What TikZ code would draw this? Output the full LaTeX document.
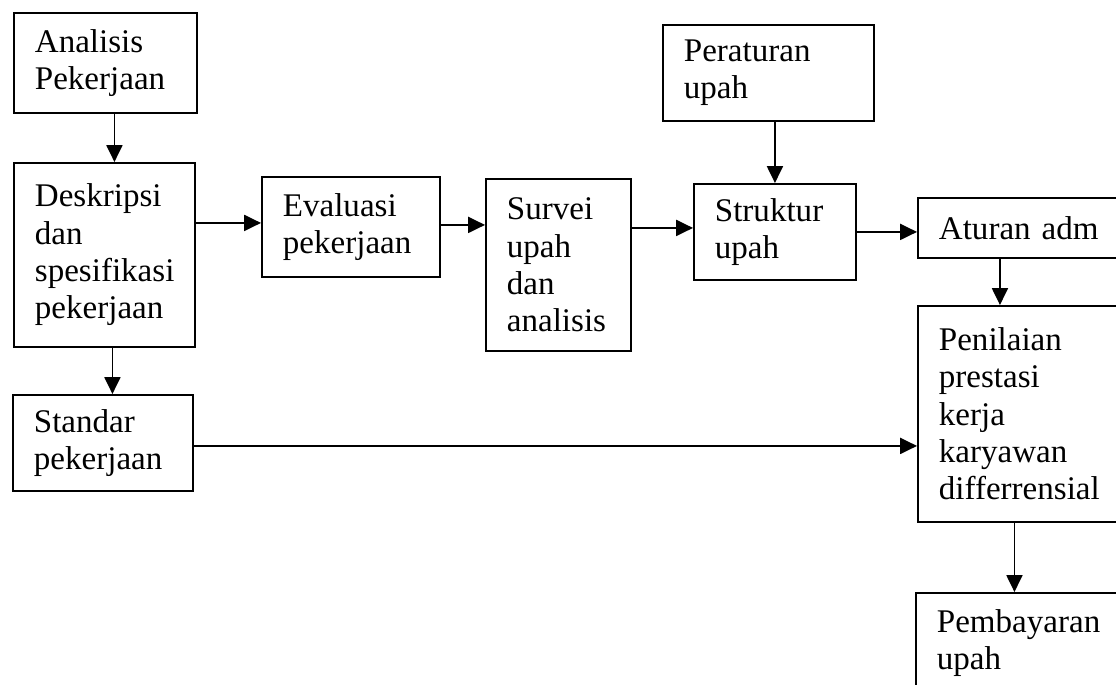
\documentclass[tikz,border=0pt]{standalone}
\usepackage{fontspec}
\setmainfont{Liberation Serif}
\usepackage{tikz}
\usetikzlibrary{arrows.meta,positioning,calc}
\tikzstyle{line} = [draw, line width=1.1pt, -{Triangle[length=0.42cm,width=0.4cm]}]
\tikzstyle{block} = [draw, line width=1.3pt, rectangle, anchor=north west, align=left, inner xsep=0.525cm, inner ysep=0pt, font=\fontsize{23.5}{26.5}\selectfont]

\begin{document}
\begin{tikzpicture}[x=0.025cm, y=-0.025cm]
    \useasboundingbox (0,0) rectangle (1116,684);
    \node [block, text width=3.525cm, minimum height=2.5cm] (anal) at (13,12) {Analisis\\Pekerjaan};
    \node [block, text width=3.475cm, minimum height=4.6cm] (desk) at (13,162) {Deskripsi\\dan\\spesifikasi\\pekerjaan};
    \node [block, text width=3.45cm, minimum height=2.4cm] (stan) at (12,394) {Standar\\pekerjaan};
    \node [block, text width=3.4cm, minimum height=2.5cm] (eval) at (261,176) {Evaluasi\\pekerjaan};
    \node [block, text width=2.575cm, minimum height=4.3cm] (surv) at (485,178) {Survei\\upah\\dan\\analisis};
    \node [block, text width=4.225cm, minimum height=2.4cm] (peru) at (662,24) {Peraturan\\upah};
    \node [block, text width=3.0cm, minimum height=2.4cm] (stru) at (693,183) {Struktur\\upah};
    \node [block, text width=4.275cm, minimum height=1.5cm] (atur) at (917,197) {Aturan adm};
    \node [block, text width=4.275cm, minimum height=5.4cm] (peni) at (917,305) {Penilaian\\prestasi\\kerja\\karyawan\\differrensial};
    \node [block, text width=4.3cm, minimum height=2.5cm] (pemb) at (915,592) {Pembayaran\\upah};

    % arrow start points
    \coordinate (c1) at ($(anal.south)+(9,0)$);
    \coordinate (c2) at ($(desk.south)+(8,0)$);
    \coordinate (c3) at ($(desk.east)+(0,-32)$);
    \coordinate (c4) at ($(eval.east)+(0,-2)$);
    \coordinate (c5) at ($(surv.east)+(0,-37)$);
    \coordinate (c6) at ($(peru.south)+(6.5,0)$);
    \coordinate (c7) at (stru.east);
    \coordinate (c8) at ($(atur.south)+(-24.5,0)$);
    \coordinate (c9) at ($(stan.east)+(0,3)$);
    \coordinate (c10) at ($(peni.south)+(-10,0)$);

    \path [line] (c1) -- (c1 |- desk.north);
    \path [line] (c2) -- (c2 |- stan.north);
    \path [line] (c3) -- (c3 -| eval.west);
    \path [line] (c4) -- (c4 -| surv.west);
    \path [line] (c5) -- (c5 -| stru.west);
    \path [line] (c6) -- (c6 |- stru.north);
    \path [line] (c7) -- (c7 -| atur.west);
    \path [line] (c8) -- (c8 |- peni.north);
    \path [line] (c9) -- (c9 -| peni.west);
    \path [line] (c10) -- (c10 |- pemb.north);
\end{tikzpicture}
\end{document}
